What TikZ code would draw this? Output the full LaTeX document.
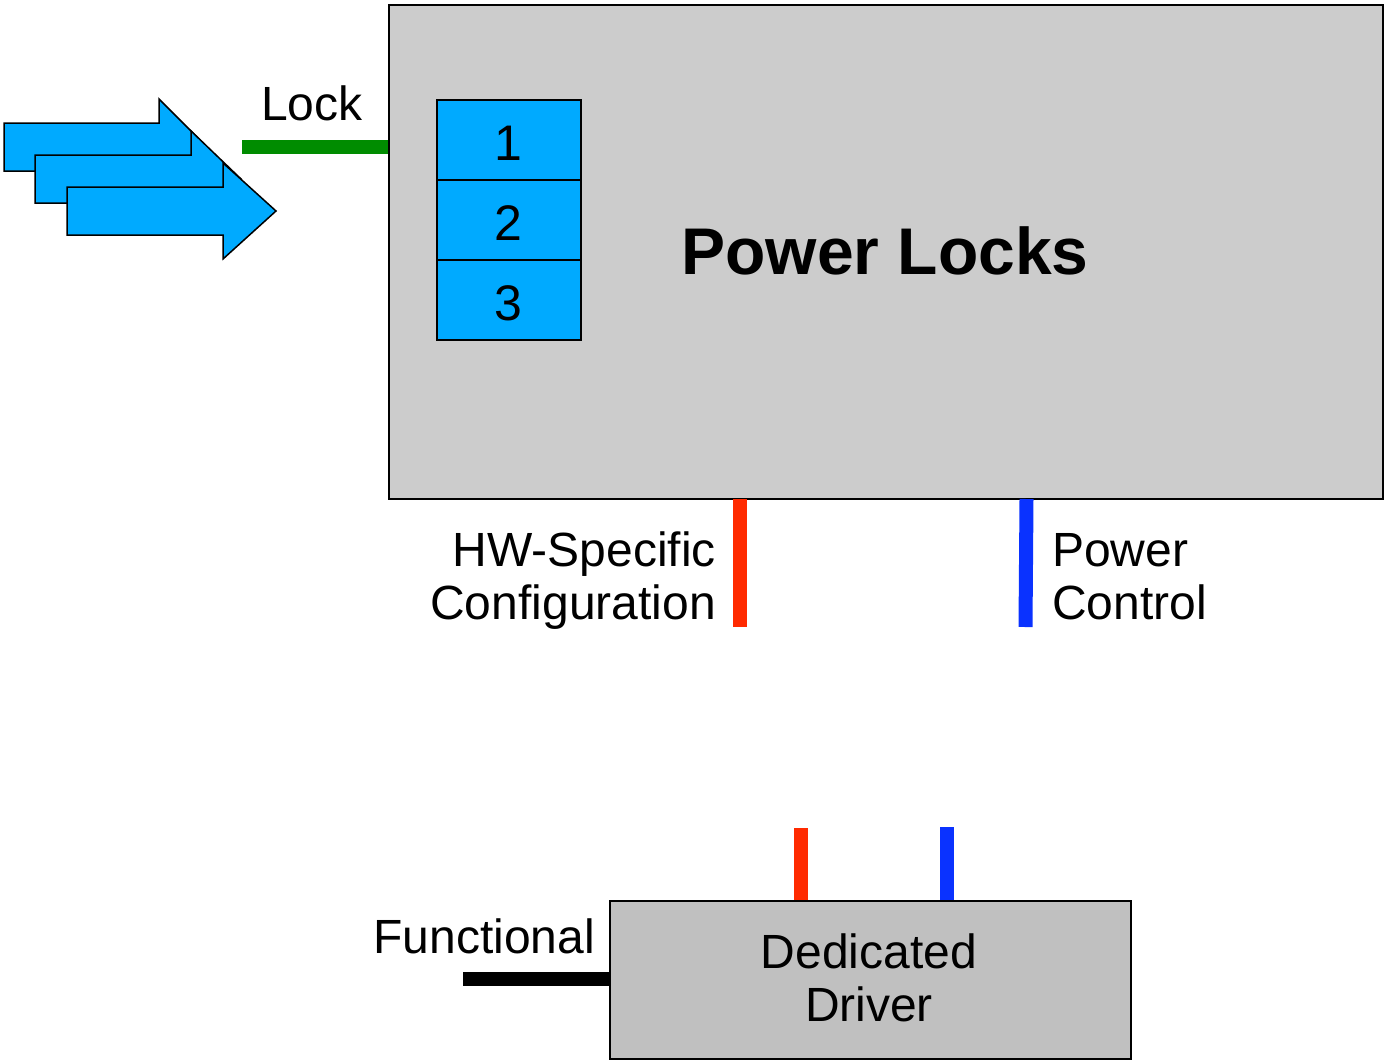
\documentclass[tikz,border=0pt]{standalone}
\usepackage{fontspec}
\setmainfont{Liberation Sans}
\begin{document}
\begin{tikzpicture}[x=1pt,y=-1pt,
  lbl/.style={inner sep=0pt,font=\fontsize{48}{53}\selectfont},
  wire/.style={line width=14pt},
  arr/.style={fill=arrowblue,draw=black,line width=1.5pt,line join=miter},
  cell/.style={draw=black,line width=1.5pt,fill=arrowblue,minimum width=144pt,minimum height=80pt,inner sep=0pt,font=\fontsize{50}{55}\selectfont}]
\definecolor{arrowblue}{HTML}{00AAFF}
\definecolor{boxgray}{HTML}{CCCCCC}
\definecolor{drvgray}{HTML}{C0C0C0}
\definecolor{lockgreen}{HTML}{008C00}
\definecolor{cfgred}{HTML}{FF2A00}
\definecolor{pwrblue}{HTML}{0A32FF}
\useasboundingbox (0,0) rectangle (1384,1060);
% big box
\node[draw=black,line width=2pt,fill=boxgray,minimum width=994pt,minimum height=494pt,inner sep=0pt,anchor=north west] (locks) at (388,4) {};
\node[inner sep=0pt,anchor=base,font=\fontsize{66}{72}\selectfont\bfseries] (title) at (885,274) {Power Locks};
% stack
\node[cell,anchor=north west] (c1) at (436,99) {};
\node[cell,anchor=north west] (c2) at (436,179) {};
\node[cell,anchor=north west] (c3) at (436,259) {};
\node[lbl,anchor=base,font=\fontsize{50}{55}\selectfont] (n1) at (508,160) {1};
\node[lbl,anchor=base,font=\fontsize{50}{55}\selectfont] (n2) at (508,240) {2};
\node[lbl,anchor=base,font=\fontsize{50}{55}\selectfont] (n3) at (508,320) {3};
% arrows
\draw[arr] (4,123) -- (159,123) -- (159,99) -- (207,147) -- (159,195) -- (159,171) -- (4,171) -- cycle;
\draw[arr] (35,155) -- (191,155) -- (191,131) -- (241,179) -- (191,227) -- (191,203) -- (35,203) -- cycle;
\draw[arr] (67,187) -- (223,187) -- (223,163) -- (276,211) -- (223,259) -- (223,235) -- (67,235) -- cycle;
% lock wire
\coordinate (lockend) at (242,147);
\draw[wire,lockgreen] (lockend) -- (locks.west |- lockend);
\node[lbl,anchor=base west] (locklbl) at (261,120) {Lock};
% config / power wires
\coordinate (cfgtop) at (740,499);
\coordinate (cfgend) at (740,627);
\coordinate (pwrtop) at (1026.5,499);
\coordinate (pwrend) at (1025.5,627);
\draw[wire,cfgred] (cfgtop) -- (cfgend);
\draw[wire,pwrblue] (pwrtop) -- (pwrend);
\node[lbl,anchor=base east,align=right] (cfglbl) at (716,619) {HW-Specific\\Configuration};
\node[lbl,anchor=base west,align=left] (pwrlbl) at (1052,619) {Power\\Control};
% driver
\node[draw=black,line width=2pt,fill=drvgray,minimum width=521pt,minimum height=158pt,inner sep=0pt,anchor=north west] (drv) at (609,900) {};
\node[lbl,anchor=base,align=center] (drvlbl) at (869,1021) {Dedicated\\Driver};
\coordinate (dred) at (801,828);
\coordinate (dblue) at (947,827);
\draw[wire,cfgred] (dred) -- (drv.north -| dred);
\draw[wire,pwrblue] (dblue) -- (drv.north -| dblue);
\coordinate (fend) at (463,979);
\draw[wire,black] (fend) -- (drv.west |- fend);
\node[lbl,anchor=base east] (funclbl) at (595,953) {Functional};
\end{tikzpicture}
\end{document}
